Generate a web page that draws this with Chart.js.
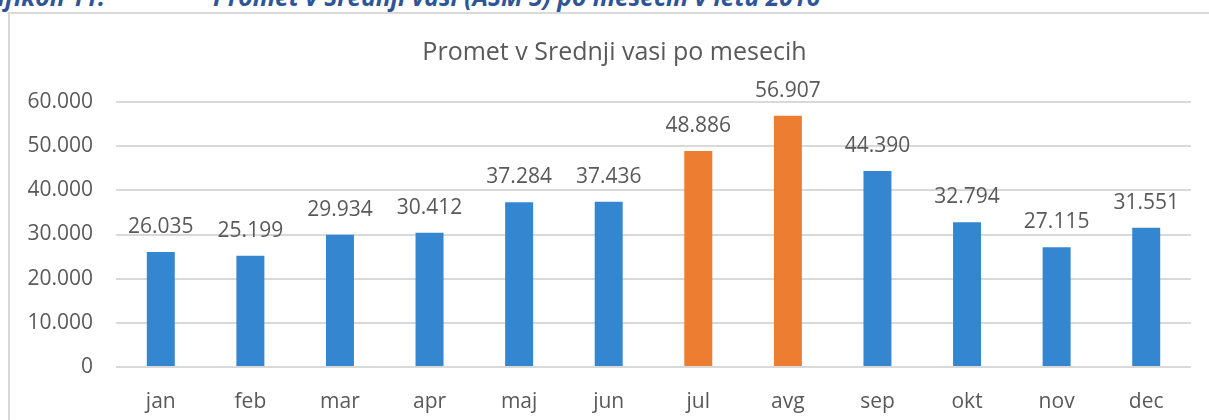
<!DOCTYPE html>
<html>
<head>
<meta charset="utf-8">
<script src="https://cdn.jsdelivr.net/npm/chart.js@4.4.1/dist/chart.umd.min.js"></script>
<style>
  html, body { margin: 0; padding: 0; background: #fff; overflow: hidden; }
  body { width: 1209px; height: 420px; position: relative; }
  .caption {
    position: absolute; top: -15px; line-height: 24.6px; white-space: nowrap;
    font-family: "Open Sans", sans-serif; font-size: 24.6px; font-weight: bold; font-style: italic;
    color: #2f5597;
  }
  #frame {
    position: absolute; left: 8px; top: 12px; width: 1400px; height: 600px;
    border-top: 2px solid #d9d9d9; border-left: 2px solid #d9d9d9;
    pointer-events: none;
  }
  #wrap { position: absolute; left: 0; top: 0; width: 1209px; height: 420px; }
</style>
</head>
<body>
<span class="caption" style="right: 1104px;">Grafikon 11:</span>
<span class="caption" style="left: 213px;">Promet v Srednji vasi (AŠM 5) po mesecih v letu 2016</span>
<div id="frame"></div>
<div id="wrap"><canvas id="myChart" width="1209" height="420"></canvas></div>
<script>
/* global Chart */

const months = ["jan", "feb", "mar", "apr", "maj", "jun", "jul", "avg", "sep", "okt", "nov", "dec"];
const traffic = [26035, 25199, 29934, 30412, 37284, 37436, 48886, 56907, 44390, 32794, 27115, 31551];
// summer months are highlighted
const summer = ["jul", "avg"];
const chartTitle = "Promet v Srednji vasi po mesecih";

const BLUE = "#3586d0";
const ORANGE = "#ed7d31";
const TEXT = "#595959";
const FONT = "'Open Sans', sans-serif";

function dots(n) {
  return String(n).replace(/\B(?=(\d{3})+(?!\d))/g, ".");
}

// value labels above the bars + the heading (centred on the framed box, not the canvas)
const decorations = {
  id: "decorations",
  afterDatasetsDraw(chart) {
    const ctx = chart.ctx;
    const meta = chart.getDatasetMeta(0);
    ctx.save();
    ctx.font = "21px " + FONT;
    ctx.fillStyle = TEXT;
    ctx.textAlign = "center";
    ctx.textBaseline = "alphabetic";
    meta.data.forEach((bar, i) => {
      ctx.fillText(dots(traffic[i]), bar.x, bar.y - 19);
    });
    ctx.font = "25px " + FONT;
    ctx.fillText(chartTitle, chart.width / 2 + 10, 60);
    ctx.restore();
  }
};

const ctx = document.getElementById("myChart");
new Chart(ctx, {
  type: "bar",
  data: {
    labels: months,
    datasets: [{
      label: "Promet",
      data: traffic,
      backgroundColor: months.map((m) => summer.includes(m) ? ORANGE : BLUE),
      barPercentage: 0.3125,
      categoryPercentage: 1
    }]
  },
  options: {
    responsive: false,
    animation: false,
    layout: { padding: { left: 0, right: 18, top: 102, bottom: 0 } },
    plugins: {
      legend: { display: false },
      tooltip: { enabled: false },
      title: { display: false }
    },
    scales: {
      x: {
        grid: { display: false },
        border: { display: false },
        ticks: { color: TEXT, font: { family: FONT, size: 21 }, padding: 14 },
        afterFit(axis) { axis.height = 53; }
      },
      y: {
        min: 0,
        max: 60000,
        ticks: {
          stepSize: 10000,
          color: TEXT,
          font: { family: FONT, size: 21 },
          padding: 23,
          callback: (v) => dots(v)
        },
        grid: { color: "#d9d9d9", lineWidth: 2, drawTicks: false },
        border: { display: false },
        afterFit(axis) { axis.width = 116; }
      }
    }
  },
  plugins: [decorations]
});
</script>
</body>
</html>
